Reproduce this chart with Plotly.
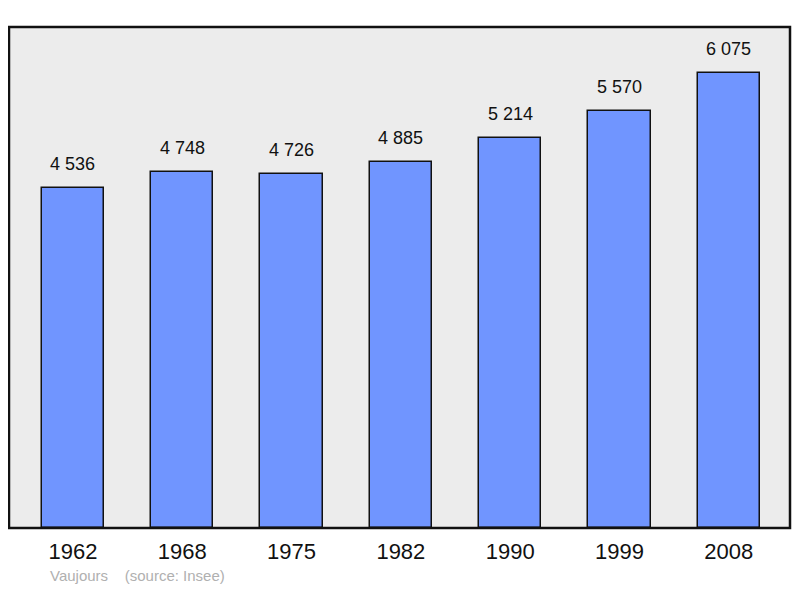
import plotly.graph_objects as go

years = ["1962", "1968", "1975", "1982", "1990", "1999", "2008"]
population = [4536, 4748, 4726, 4885, 5214, 5570, 6075]
labels = ["4 536", "4 748", "4 726", "4 885", "5 214", "5 570", "6 075"]

xs = list(range(len(years)))

fig = go.Figure(go.Bar(
    x=xs, y=population, width=0.57,
    marker=dict(color="#7095ff", line=dict(color="#111111", width=1.5)),
))

font = "Liberation Sans, Arial"
notes = [dict(x=x, y=v, text=t, showarrow=False, yanchor="bottom", yshift=12,
              font=dict(family=font, size=18, color="#111111"))
         for x, v, t in zip(xs, population, labels)]
notes.append(dict(text="Vaujours    (source: Insee)", xref="paper", yref="paper",
                  x=0.05, y=-0.095, xanchor="left", yanchor="middle", showarrow=False,
                  font=dict(family=font, size=15, color="#b0b0b0")))

fig.update_layout(
    width=784, height=582,
    margin=dict(l=1, r=2, t=19, b=62),
    paper_bgcolor="white", plot_bgcolor="#ececec",
    showlegend=False, bargap=0,
    xaxis=dict(range=[-0.585, 6.56], tickvals=xs, ticktext=years, showgrid=False,
               zeroline=False, ticks="", ticklabelstandoff=8,
               tickfont=dict(family=font, size=22, color="#111111")),
    yaxis=dict(range=[0, 6690], visible=False),
    shapes=[dict(type="rect", xref="paper", yref="paper", x0=0, x1=1, y0=0, y1=1,
                 line=dict(color="#111111", width=2.5))],
    annotations=notes,
)

fig.write_html("out.html")
